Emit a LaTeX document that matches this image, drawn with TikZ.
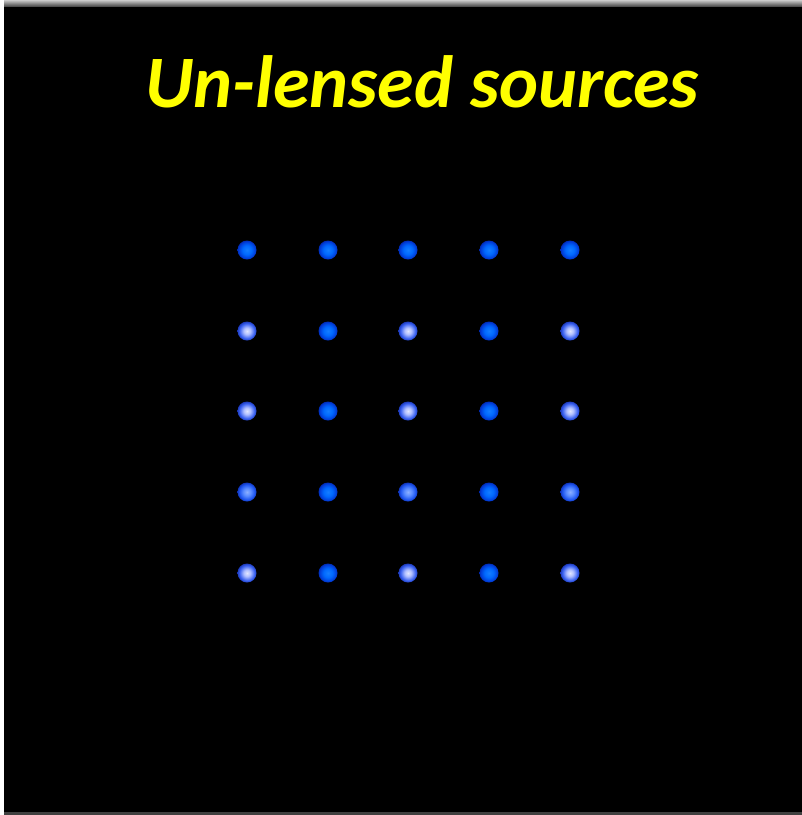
\documentclass[tikz,border=0pt]{standalone}
\usepackage{fontspec}
\setmainfont{Carlito}
\usetikzlibrary{shadings}
\pgfdeclareradialshading{bluedot}{\pgfpoint{0bp}{0bp}}{%
  color(0bp)=(rgb,255:red,20;green,125;blue,255);
  color(12bp)=(rgb,255:red,0;green,105;blue,255);
  color(22bp)=(rgb,255:red,0;green,60;blue,215);
  color(32bp)=(rgb,255:red,0;green,15;blue,120);
  color(42bp)=(rgb,255:red,0;green,0;blue,30);
  color(49bp)=(black);
  color(50bp)=(black)}
\pgfdeclareradialshading{whitedot}{\pgfpoint{0bp}{0bp}}{%
  color(0bp)=(rgb,255:red,225;green,230;blue,255);
  color(9bp)=(rgb,255:red,175;green,190;blue,255);
  color(20bp)=(rgb,255:red,55;green,95;blue,240);
  color(32bp)=(rgb,255:red,0;green,15;blue,120);
  color(42bp)=(rgb,255:red,0;green,0;blue,30);
  color(49bp)=(black);
  color(50bp)=(black)}
\pgfdeclareradialshading{middot}{\pgfpoint{0bp}{0bp}}{%
  color(0bp)=(rgb,255:red,140;green,175;blue,255);
  color(10bp)=(rgb,255:red,90;green,140;blue,255);
  color(20bp)=(rgb,255:red,30;green,85;blue,240);
  color(32bp)=(rgb,255:red,0;green,15;blue,120);
  color(42bp)=(rgb,255:red,0;green,0;blue,30);
  color(49bp)=(black);
  color(50bp)=(black)}
\definecolor{titleyellow}{RGB}{255,255,0}
\tikzset{
  src/.style={circle, inner sep=0pt, minimum size=19pt, draw=none, shading=#1},
  titletext/.style={text=titleyellow, font=\fontsize{74}{84}\selectfont\bfseries\itshape, inner sep=0pt, anchor=base}
}
\begin{document}
\begin{tikzpicture}[x=1pt, y=-1pt]
\useasboundingbox (0,0) rectangle (802,815);
\fill[white] (0,0) rectangle (802,815);
\shade[top color=black!20, bottom color=black!85] (4,0) rectangle (802,8);
\fill[black!75] (4,811) rectangle (802,815);
\fill[black] (4,7) rectangle (802,812);
\node[titletext] (title) at (422,107) {Un-lensed sources};
% rows y, columns x
\foreach \y/\r/\t in {250/1/bluedot, 331/2/whitedot, 411/3/whitedot, 492/4/middot, 573/5/whitedot}{
  \node[src=\t] (s\r-1) at (247,\y) {};
  \node[src=bluedot] (s\r-2) at (328,\y) {};
  \node[src=\t] (s\r-3) at (408,\y) {};
  \node[src=bluedot] (s\r-4) at (489,\y) {};
  \node[src=\t] (s\r-5) at (570,\y) {};
}
\end{tikzpicture}
\end{document}
